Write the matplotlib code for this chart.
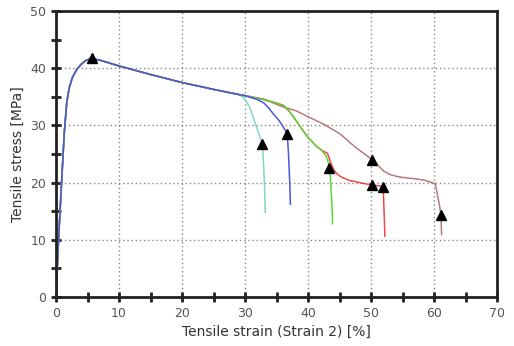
import matplotlib.pyplot as plt
from matplotlib.ticker import MultipleLocator

# shared loading part (elastic rise, yield, necking plateau)
base_strain = [0, 0.4, 0.9, 1.3, 1.7, 2.1, 2.6, 3.3, 4.0, 4.8, 5.7, 7, 8.5, 10, 15, 20, 25, 29]
base_stress = [0, 10, 20.4, 28.5, 34.0, 36.6, 38.4, 39.8, 40.7, 41.4, 41.7, 41.4, 40.9, 40.4, 38.9, 37.5, 36.3, 35.4]

# individual specimens after the common part
cyan_x = [29.7, 30.2, 30.8, 31.3, 31.8, 32.3, 32.75, 32.95, 33.1, 33.2]
cyan_y = [34.9, 34.2, 33.0, 31.4, 29.8, 28.2, 26.8, 23.0, 19.0, 14.8]
blue_x = [30, 32, 33, 33.8, 34.5, 35.3, 35.8, 36.3, 36.7, 36.9, 37.1, 37.2]
blue_y = [35.2, 34.5, 33.9, 33.0, 32.0, 31.0, 30.2, 29.3, 28.5, 25.0, 20.0, 16.2]
green_x = [30, 33, 35, 36.1, 37, 38, 39, 40, 41.2, 42.2, 42.9, 43.2, 43.4, 43.6, 43.8, 43.9]
green_y = [35.2, 34.5, 33.9, 33.5, 32.5, 31.0, 29.4, 27.9, 26.5, 25.6, 24.6, 23.6, 22.6, 20.0, 16.0, 12.8]
red_x = [30, 33, 35, 36.1, 37, 38, 39, 40, 41.2, 42.2, 43.1, 43.5, 44.0, 44.6, 45.4, 46.5, 47.7, 49, 50.1, 51.9, 52.0, 52.1, 52.2]
red_y = [35.2, 34.5, 33.9, 33.5, 32.5, 31.0, 29.4, 27.9, 26.5, 25.6, 25.1, 23.8, 22.4, 21.5, 20.9, 20.4, 20.1, 19.8, 19.6, 19.3, 17.0, 14.0, 10.6]
brown_x = [30, 33, 36.1, 38, 40.05, 42.5, 45.1, 47.5, 50.2, 51.2, 52, 53, 54, 55, 56.7, 58.5, 60.2, 60.6, 60.9, 61.1, 61.2]
brown_y = [35.2, 34.6, 33.2, 32.6, 31.5, 30.2, 28.5, 26.2, 24.0, 22.9, 22.0, 21.4, 21.1, 20.9, 20.7, 20.4, 19.8, 17.5, 15.8, 14.3, 10.9]

# break / yield markers
mark_x = [5.7, 32.75, 36.7, 43.4, 50.1, 51.9, 50.2, 61.1]
mark_y = [41.8, 26.8, 28.5, 22.6, 19.6, 19.3, 24.0, 14.3]

series = [
    (cyan_x, cyan_y, "#7fd8c8"),
    (brown_x, brown_y, "#b87a7a"),
    (red_x, red_y, "#f04848"),
    (green_x, green_y, "#5ad83a"),
    (blue_x, blue_y, "#4a55e0"),
]

fig = plt.figure(figsize=(5.14, 3.46), dpi=100)
ax = fig.add_axes([0.109, 0.142, 0.858, 0.826])

for xs, ys, c in series:
    ax.plot(base_strain + xs, base_stress + ys, color=c, linewidth=1.1)

ax.plot(mark_x, mark_y, linestyle="none", marker="^", color="black", markersize=7)

ax.set_xlim(0, 70)
ax.set_ylim(0, 50)
ax.xaxis.set_major_locator(MultipleLocator(10))
ax.xaxis.set_minor_locator(MultipleLocator(5))
ax.yaxis.set_major_locator(MultipleLocator(10))
ax.yaxis.set_minor_locator(MultipleLocator(5))
ax.grid(True, which="major", linestyle=(0, (1, 2)), color="#888888", linewidth=1.0)
ax.tick_params(which="both", direction="inout", width=2, color="#222222",
               labelsize=9, labelcolor="#555555", length=7)
for s in ax.spines.values():
    s.set_linewidth(2)
    s.set_color("#222222")

ax.set_xlabel("Tensile strain (Strain 2) [%]", fontsize=10, color="#333333")
ax.set_ylabel("Tensile stress [MPa]", fontsize=10, color="#333333")

plt.savefig("out.png", dpi=100)
